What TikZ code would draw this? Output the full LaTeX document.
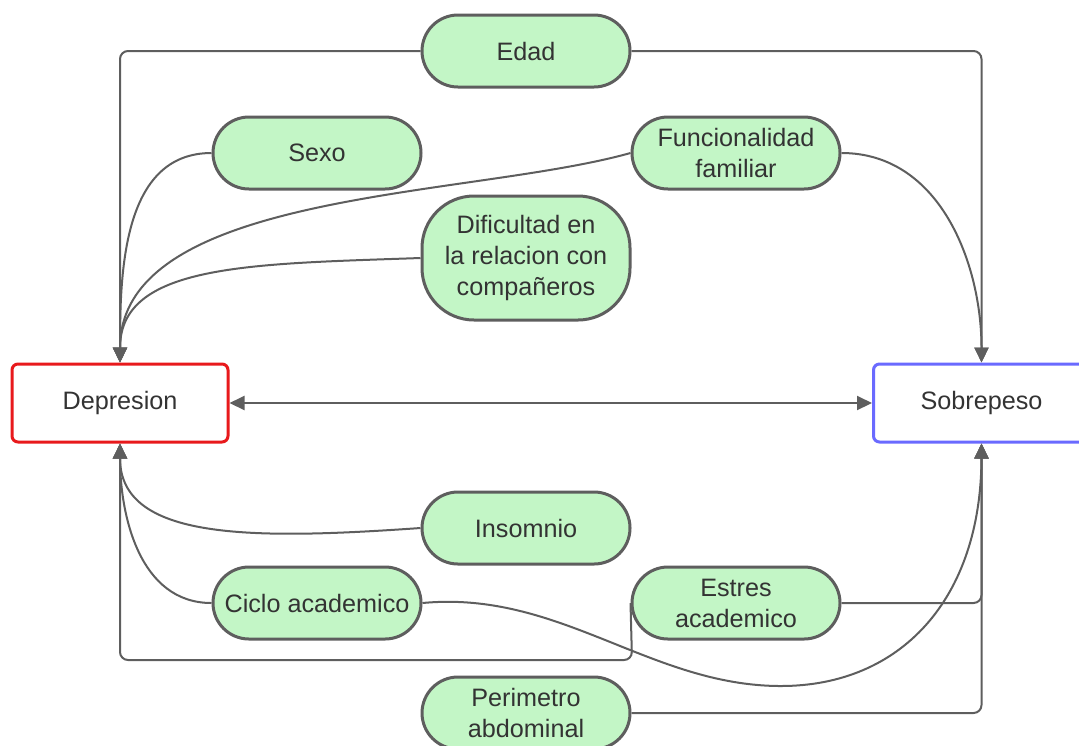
\documentclass[tikz,border=0pt]{standalone}
\usepackage{fontspec}
\setmainfont{Liberation Sans}
\usetikzlibrary{arrows.meta}
\definecolor{pillgreen}{HTML}{C3F6C6}
\definecolor{linegray}{HTML}{5E5E5E}
\definecolor{textgray}{HTML}{333333}
\definecolor{depred}{HTML}{E8191C}
\definecolor{sobblue}{HTML}{6A6AFF}
\tikzset{
  factor/.style={draw=linegray, fill=pillgreen, line width=1.5pt, rounded corners=18pt,
    minimum width=104pt, minimum height=36pt, align=center, text=textgray,
    font=\fontsize{12.6}{15.5}\selectfont},
  mainbox/.style={fill=white, line width=1.5pt, rounded corners=3pt, minimum width=108pt,
    minimum height=39pt, text=textgray, font=\fontsize{12.6}{15.5}\selectfont},
  link/.style={draw=linegray, line width=1pt, rounded corners=4pt},
  tip/.style={-{Triangle[length=7.5pt,width=7pt]}}
}
\begin{document}
\begin{tikzpicture}[x=0.5pt, y=-0.5pt]
            \useasboundingbox (0,0) rectangle (1079,745);
            % main variables
            \node[mainbox, draw=depred] (dep) at (120,403) {Depresion};
            \node[mainbox, draw=sobblue] (sob) at (981.5,403) {Sobrepeso};
            % factors
            \node[factor] (edad) at (526,51) {Edad};
            \node[factor] (sexo) at (317,153) {Sexo};
            \node[factor] (famil) at (736,153) {Funcionalidad\\familiar};
            \node[factor, minimum height=62pt, rounded corners=26pt] (dific) at (526,258) {Dificultad en\\la relacion con\\compañeros};
            \node[factor] (insom) at (526,528) {Insomnio};
            \node[factor] (ciclo) at (317,603) {Ciclo academico};
            \node[factor] (estres) at (736,603) {Estres\\academico};
            \node[factor] (perim) at (526,713) {Perimetro\\abdominal};
            % links
            \draw[link, {Triangle[length=7.5pt,width=7pt]}-{Triangle[length=7.5pt,width=7pt]}] (dep) -- (sob);
            \draw[link, tip] (edad.west) -| (dep.north);
            \draw[link, tip] (edad.east) -| (sob.north);
            \draw[link, rounded corners=0pt, tip] (sexo.west) to[out=180, in=90] (dep.north);
            \draw[link, rounded corners=0pt, tip] (famil.west) .. controls (470,198) and (120,190) .. (dep.north);
            \draw[link, rounded corners=0pt, tip] (dific.west) .. controls (250,264) and (120,264) .. (dep.north);
            \draw[link, rounded corners=0pt, tip] (famil.east) to[out=0, in=90] (sob.north);
            \draw[link, rounded corners=0pt, tip] (insom.west) .. controls (250,540) and (120,540) .. (dep.south);
            \draw[link, rounded corners=0pt, tip] (ciclo.west) to[out=180, in=-90] (dep.south);
            \draw[link, rounded corners=0pt, tip] (ciclo.east) .. controls (560,590) and (650,686) .. (781,686)
              .. controls (900,686) and (981,600) .. (sob.south);
            \draw[link, tip] (estres.west) -- (632,660) -| (dep.south);
            \draw[link, tip] (estres.east) -| (sob.south);
            \draw[link, tip] (perim.east) -| (sob.south);
\end{tikzpicture}
\end{document}
